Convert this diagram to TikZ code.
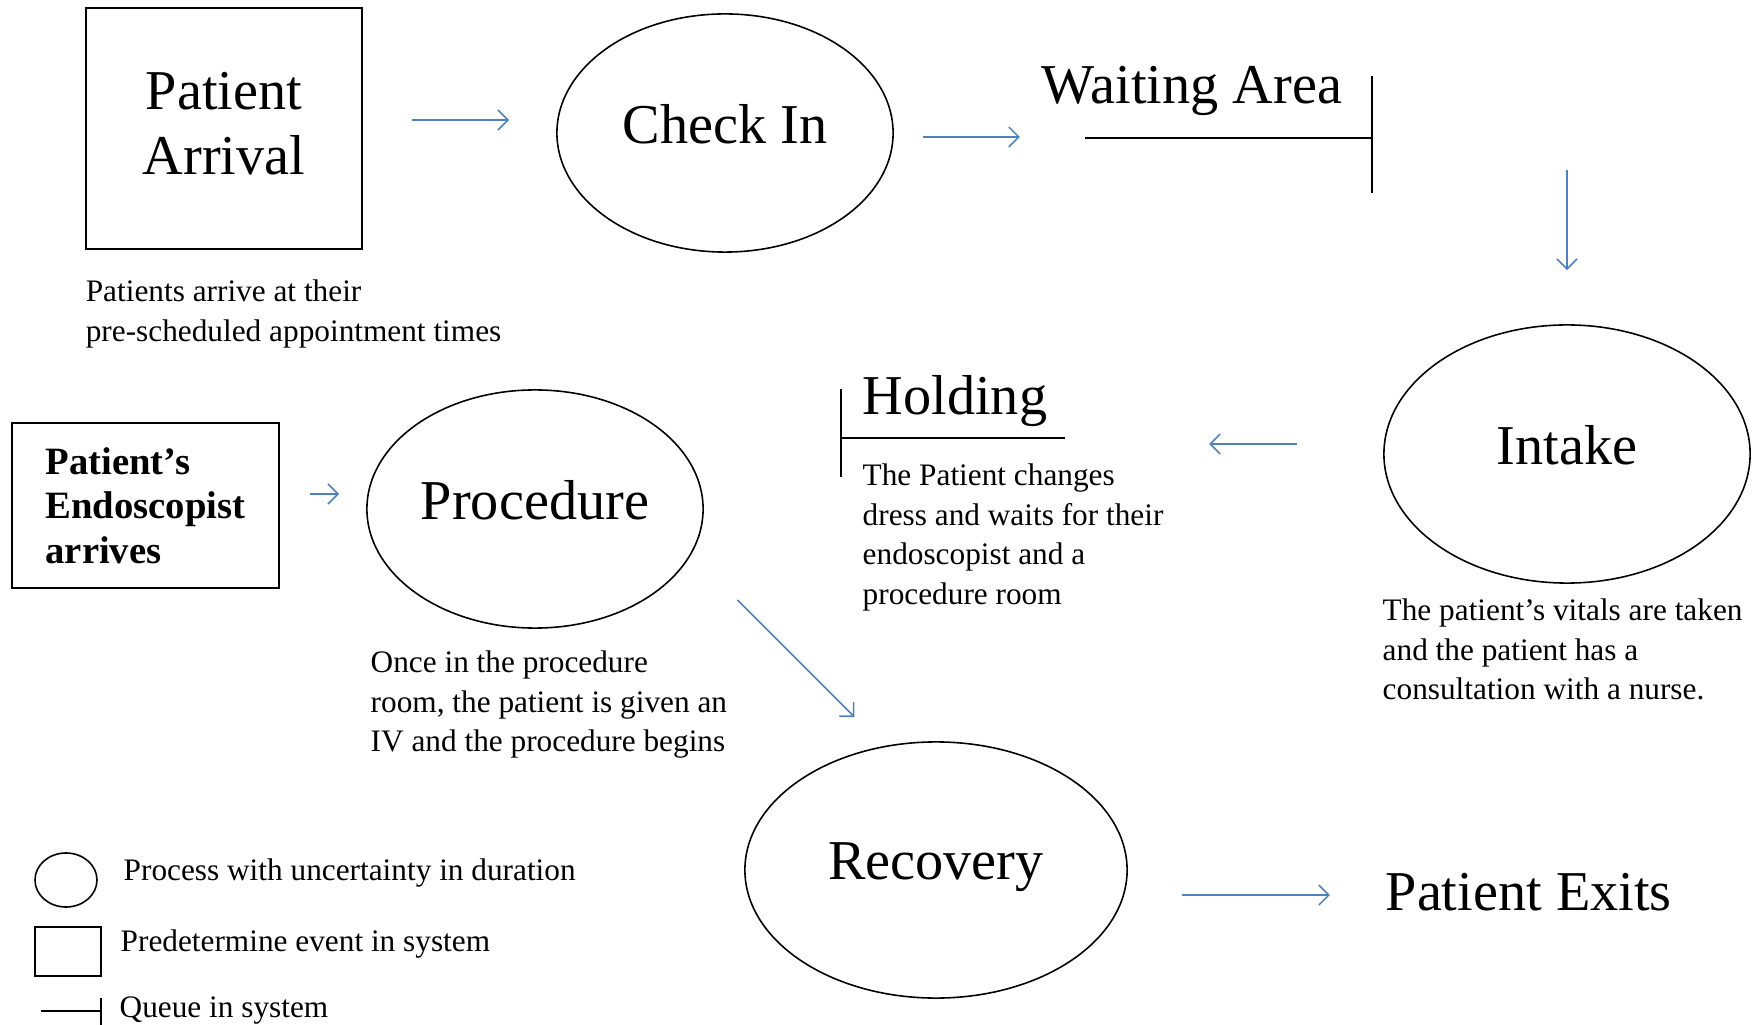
\documentclass[tikz,border=0pt]{standalone}
\usepackage{fontspec}
\setmainfont{Liberation Serif}
\usetikzlibrary{arrows.meta,shapes.geometric,positioning}
\definecolor{flowblue}{RGB}{79,129,189}

\begin{document}
\begin{tikzpicture}[
  x=0.01cm,y=-0.01cm,
  big/.style={font=\fontsize{16}{18.5}\selectfont,inner sep=0pt,align=center},
  note/.style={font=\fontsize{8.9}{11.3}\selectfont,inner sep=0pt,
               align=left,anchor=north west},
  proc/.style={draw,ellipse,line width=0.45pt,inner sep=0pt,text depth=5pt,
               font=\fontsize{16}{18.5}\selectfont},
  evt/.style={draw,rectangle,line width=0.45pt,align=center},
  queue/.style={line width=0.7pt},
  arr/.style={-{Straight Barb[length=1mm,width=2mm]},flowblue,line width=0.45pt},
]
  \useasboundingbox (0,0) rectangle (1758,1025);

  % arrival and check in
  \node[evt,big,text depth=3pt,minimum width=2.76cm,minimum height=2.41cm] (pa)
    at (224,128.5) {Patient\\Arrival};
  \node[note,below right=0.29cm and 0cm of pa.south west] (pacap)
    {Patients arrive at their\\pre-scheduled appointment times};
  \node[proc,minimum width=3.36cm,minimum height=2.38cm] (ci) at (725,133) {Check In};

  % waiting area queue
  \node[big,anchor=base] (wait) at (1192,104) {Waiting Area};
  \coordinate (wq) at (1085,138);
  \coordinate (wqe) at (1372,138);
  \draw[queue] (wq) -- (wqe) ++(0,-62) -- ++(0,117);

  % intake
  \node[proc,minimum width=3.66cm,minimum height=2.58cm] (in) at (1567,454) {Intake};
  \node[note] (incap) at (1382,598)
    {The patient's vitals are taken\\and the patient has a\\consultation with a nurse.};

  % holding queue
  \coordinate (hq) at (841,438);
  \coordinate (hqe) at (1065,438);
  \draw[queue] (hq) ++(0,-49) -- ++(0,88) (hq) -- (hqe);
  \node[big,anchor=base west] (hold) at (862,415) {Holding};
  \node[note] (holdcap) at (862,463)
    {The Patient changes\\dress and waits for their\\endoscopist and a\\procedure room};

  % procedure
  \node[evt,font=\bfseries\fontsize{11}{12.6}\selectfont,align=left,
        minimum width=2.67cm,minimum height=1.65cm] (endo) at (145.5,505.5)
    {Patient's\\Endoscopist\\arrives};
  \node[proc,minimum width=3.36cm,minimum height=2.38cm] (pr) at (535,509) {Procedure};
  \node[note] (prcap) at (370,650)
    {Once in the procedure\\room, the patient is given an\\IV and the procedure begins};

  % recovery and exit
  \node[proc,minimum width=3.82cm,minimum height=2.56cm] (rc) at (936,870) {Recovery};
  \node[big,anchor=base west] (exit) at (1385,910) {Patient Exits};

  % legend
  \node[draw,ellipse,line width=0.45pt,inner sep=0pt,
        minimum width=0.62cm,minimum height=0.54cm] (lgproc) at (66,880) {};
  \node[note,anchor=base west] (lgproctxt) at (123,880)
    {Process with uncertainty in duration};
  \node[draw,line width=0.45pt,inner sep=0pt,
        minimum width=0.66cm,minimum height=0.49cm] (lgevt) at (68,951.5) {};
  \node[note,anchor=base west] (lgevttxt) at (120,951) {Predetermine event in system};
  \coordinate (lgq) at (101,1011);
  \draw[queue] (lgq) ++(-60,0) -- (lgq) ++(0,-13) -- ++(0,30);
  \node[note,anchor=base west] (lgqtxt) at (119,1017) {Queue in system};

  % flow arrows
  \draw[arr,shorten <=0.49cm,shorten >=0.47cm] (pa.east |- 0,120) -- (ci.west |- 0,120);
  \draw[arr,shorten <=0.29cm,shorten >=0.65cm] (ci.east |- 0,137) -- (wq |- 0,137);
  \draw[arr,shorten <=0.32cm,shorten >=0.54cm] (in.north |- wqe) -- (in.north);
  \draw[arr,shorten <=0.86cm,shorten >=1.44cm] (in.west |- 0,444) -- (hqe |- 0,444);
  \draw[arr,shorten <=0.30cm,shorten >=0.27cm] (endo.east |- 0,494) -- (pr.west |- 0,494);
  \draw[arr,shorten <=0.65cm,shorten >=0.41cm] (pr.-16) -- (rc.113);
  \draw[arr,shorten <=0.54cm,shorten >=0.55cm] (rc.east |- 0,895) -- (exit.west |- 0,895);
\end{tikzpicture}
\end{document}
